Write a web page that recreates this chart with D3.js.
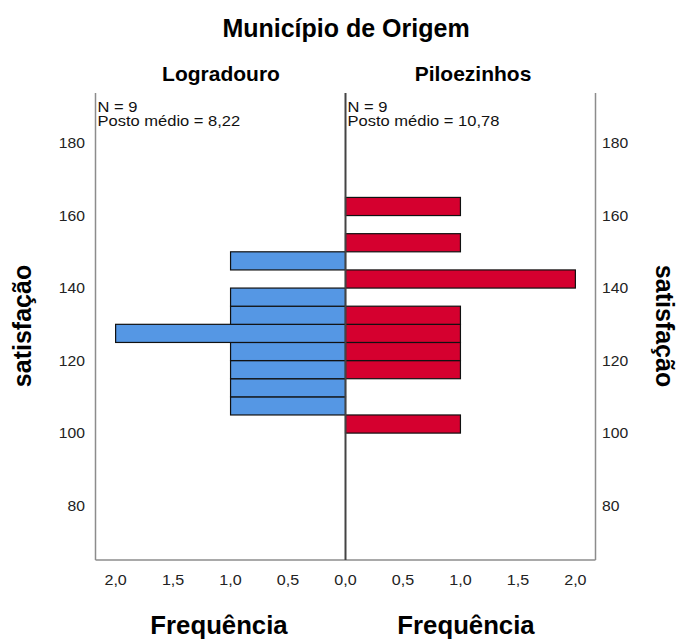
<!DOCTYPE html>
<html>
<head>
<meta charset="utf-8">
<script src="https://cdn.jsdelivr.net/npm/d3@7"></script>
<style>
  body { margin: 0; background: #fff; }
  svg { display: block; font-family: "Liberation Sans", Arial, sans-serif; }
</style>
</head>
<body>
<svg id="chart" width="684" height="641"></svg>
<script>
// ---- data ----
const chartTitle = "Município de Origem";
const groups = ["Logradouro", "Piloezinhos"];
const binWidth = 5;
// lower bound of each satisfaction bin and its frequency
const logradouroBins = [105, 110, 115, 120, 125, 130, 135, 145];
const logradouroCounts = [1, 1, 1, 1, 2, 1, 1, 1];
const piloezinhosBins = [100, 115, 120, 125, 130, 140, 150, 160];
const piloezinhosCounts = [1, 1, 1, 1, 1, 2, 1, 1];
const groupN = [9, 9];
const meanRanks = ["8,22", "10,78"];
const yTicks = [80, 100, 120, 140, 160, 180];
const xTicks = [0, 0.5, 1.0, 1.5, 2.0];
const yTitle = "satisfação";
const xTitle = "Frequência";

// ---- layout ----
const svg = d3.select("#chart");
const pTop = 93, pBottom = 560, cx = 345.5, pLeft = 95.5, pRight = 595.5;
const y = d3.scaleLinear().domain([65, 193.8]).range([pBottom, pTop]);
const xL = d3.scaleLinear().domain([0, 2.175]).range([cx, pLeft]);
const xR = d3.scaleLinear().domain([0, 2.175]).range([cx, pRight]);
const fmt = v => d3.format(".1f")(v).replace(".", ",");

// text helper with horizontal stretch (reference glyphs are wider than Arial)
function txt(g, x, yy, s, size, opts = {}) {
  const sx = opts.sx || 1, rot = opts.rot || 0;
  return g.append("text")
    .attr("transform", `translate(${x},${yy}) rotate(${rot}) scale(${sx},1)`)
    .attr("text-anchor", opts.anchor || "start")
    .attr("dy", opts.dy || null)
    .attr("font-size", size)
    .attr("font-weight", opts.bold ? "bold" : null)
    .attr("fill", opts.fill || "#000")
    .text(s);
}

// titles
txt(svg, 346, 37, chartTitle, 25, { anchor: "middle", bold: true });
txt(svg, 221, 81, groups[0], 20, { anchor: "middle", bold: true, sx: 1.05 });
txt(svg, 473, 81, groups[1], 20, { anchor: "middle", bold: true, sx: 1.05 });

// bars
const leftData = logradouroBins.map((b, i) => ({ b, c: logradouroCounts[i] }));
const rightData = piloezinhosBins.map((b, i) => ({ b, c: piloezinhosCounts[i] }));
svg.append("g").selectAll("rect").data(leftData).join("rect")
  .attr("x", d => xL(d.c)).attr("width", d => xL(0) - xL(d.c))
  .attr("y", d => y(d.b + binWidth)).attr("height", d => y(d.b) - y(d.b + binWidth))
  .attr("fill", "#5597e4").attr("stroke", "#111").attr("stroke-width", 1.2);
svg.append("g").selectAll("rect").data(rightData).join("rect")
  .attr("x", d => xR(0)).attr("width", d => xR(d.c) - xR(0))
  .attr("y", d => y(d.b + binWidth)).attr("height", d => y(d.b) - y(d.b + binWidth))
  .attr("fill", "#d5002f").attr("stroke", "#111").attr("stroke-width", 1.2);

// frame lines
const lineCol = "#8c8c8c";
svg.append("line").attr("x1", pLeft).attr("x2", pLeft).attr("y1", pTop).attr("y2", pBottom)
  .attr("stroke", lineCol).attr("stroke-width", 1.5);
svg.append("line").attr("x1", pRight).attr("x2", pRight).attr("y1", pTop).attr("y2", pBottom)
  .attr("stroke", lineCol).attr("stroke-width", 1.5);
svg.append("line").attr("x1", pLeft).attr("x2", pRight).attr("y1", pBottom).attr("y2", pBottom)
  .attr("stroke", lineCol).attr("stroke-width", 1.5);
svg.append("line").attr("x1", cx).attr("x2", cx).attr("y1", pTop).attr("y2", pBottom)
  .attr("stroke", "#444").attr("stroke-width", 2);

// y tick labels
const gyl = svg.append("g"), gyr = svg.append("g");
yTicks.forEach(d => {
  txt(gyl, 85, y(d), d, 14, { anchor: "end", dy: "0.36em", sx: 1.12, fill: "#222" });
  txt(gyr, 602, y(d), d, 14, { anchor: "start", dy: "0.36em", sx: 1.12, fill: "#222" });
});

// x tick labels
const gx = svg.append("g");
xTicks.slice(1).forEach(d => txt(gx, xL(d), 585, fmt(d), 14, { anchor: "middle", sx: 1.15, fill: "#222" }));
xTicks.forEach(d => txt(gx, xR(d), 585, fmt(d), 14, { anchor: "middle", sx: 1.15, fill: "#222" }));

// annotations
[[pLeft + 2, 0], [cx + 2, 1]].forEach(([x0, i]) => {
  txt(svg, x0, 112, "N = " + groupN[i], 14, { sx: 1.18, fill: "#111" });
  txt(svg, x0, 126, "Posto médio = " + meanRanks[i], 14, { sx: 1.18, fill: "#111" });
});

// axis titles
txt(svg, 31, 326, yTitle, 25, { anchor: "middle", bold: true, rot: -90 });
txt(svg, 656, 326, yTitle, 25, { anchor: "middle", bold: true, rot: 90 });
txt(svg, 219, 634, xTitle, 25, { anchor: "middle", bold: true, sx: 1.03 });
txt(svg, 466, 634, xTitle, 25, { anchor: "middle", bold: true, sx: 1.03 });
</script>
</body>
</html>
